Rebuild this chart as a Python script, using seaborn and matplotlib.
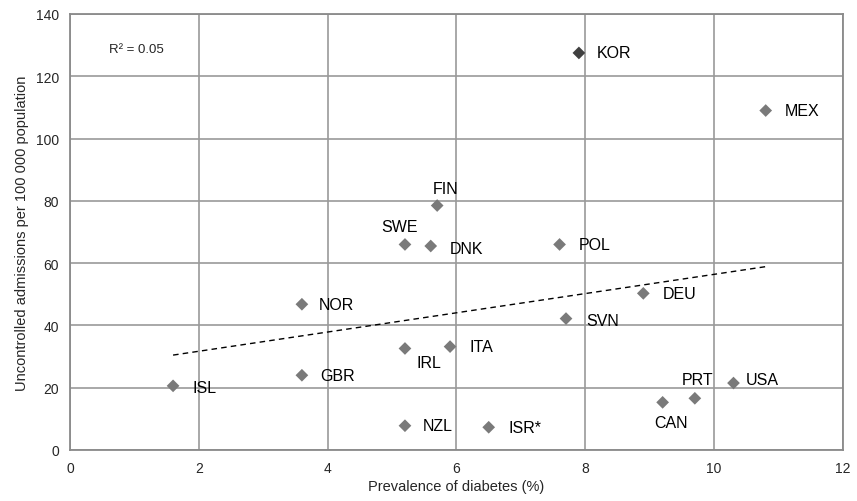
import numpy as np
import pandas as pd
import seaborn as sns
import matplotlib.pyplot as plt

countries = ["KOR", "MEX", "FIN", "SWE", "DNK", "POL", "NOR", "DEU", "SVN",
             "IRL", "ITA", "GBR", "ISL", "USA", "PRT", "CAN", "NZL", "ISR*"]
prevalence = [7.9, 10.8, 5.7, 5.2, 5.6, 7.6, 3.6, 8.9, 7.7,
              5.2, 5.9, 3.6, 1.6, 10.3, 9.7, 9.2, 5.2, 6.5]
admissions = [127.5, 109.0, 78.5, 66.0, 65.5, 66.0, 46.8, 50.3, 42.2,
              32.6, 33.2, 24.0, 20.6, 21.5, 16.6, 15.3, 7.8, 7.3]
r2_text = "R² = 0.05"

# label offsets in pixels (dx, dy, ha)
offsets = {
    "KOR": (18, 0, "left"), "MEX": (19, 0, "left"), "FIN": (8, 17, "center"),
    "SWE": (-5, 18, "center"), "DNK": (19, -2, "left"), "POL": (19, 0, "left"),
    "NOR": (17, 0, "left"), "DEU": (19, 0, "left"), "SVN": (20, -2, "left"),
    "IRL": (12, -14, "left"), "ITA": (19, 0, "left"), "GBR": (18, 0, "left"),
    "ISL": (19, -2, "left"), "USA": (12, 4, "left"), "PRT": (3, 19, "center"),
    "CAN": (8, -20, "center"), "NZL": (18, 0, "left"), "ISR*": (20, 0, "left"),
}

df = pd.DataFrame({"country": countries, "x": prevalence, "y": admissions})
df["grp"] = np.where(df.country == "KOR", "dark", "normal")

sns.set_style("white")
plt.rcParams["font.family"] = ["Liberation Sans", "DejaVu Sans"]

fig = plt.figure(figsize=(8.57, 5.02), dpi=100)
ax = fig.add_axes([70 / 857, 1 - 451 / 502, 773 / 857, 436 / 502])

sns.regplot(data=df, x="x", y="y", ci=None, scatter=False, ax=ax,
            line_kws={"color": "black", "ls": (0, (4, 3)), "lw": 1.0})
sns.scatterplot(data=df, x="x", y="y", hue="grp", palette={"dark": "#404040", "normal": "#7a7a7a"},
                marker="D", s=42, edgecolor="none", legend=False, ax=ax, zorder=3)

for c, x, y in zip(countries, prevalence, admissions):
    dx, dy, ha = offsets[c]
    ax.annotate(c, (x, y), xytext=(dx, dy), textcoords="offset pixels",
                ha=ha, va="center", fontsize=11.5, color="black")

ax.text(0.05, 0.92, r2_text, transform=ax.transAxes, fontsize=9.5, va="center")

ax.set_xlim(0, 12)
ax.set_ylim(0, 140)
ax.set_xticks(range(0, 13, 2))
ax.set_yticks(range(0, 141, 20))
ax.grid(True, color="#9a9a9a", lw=1.2)
ax.set_axisbelow(True)
for s in ax.spines.values():
    s.set_color("#8a8a8a")
    s.set_linewidth(1.3)
ax.tick_params(labelsize=10, length=0, pad=8)
ax.set_xlabel("Prevalence of diabetes (%)", fontsize=10.5, labelpad=3)
ax.set_ylabel("Uncontrolled admissions per 100 000 population", fontsize=10.5, labelpad=5)

fig.savefig("out.png", dpi=100)
